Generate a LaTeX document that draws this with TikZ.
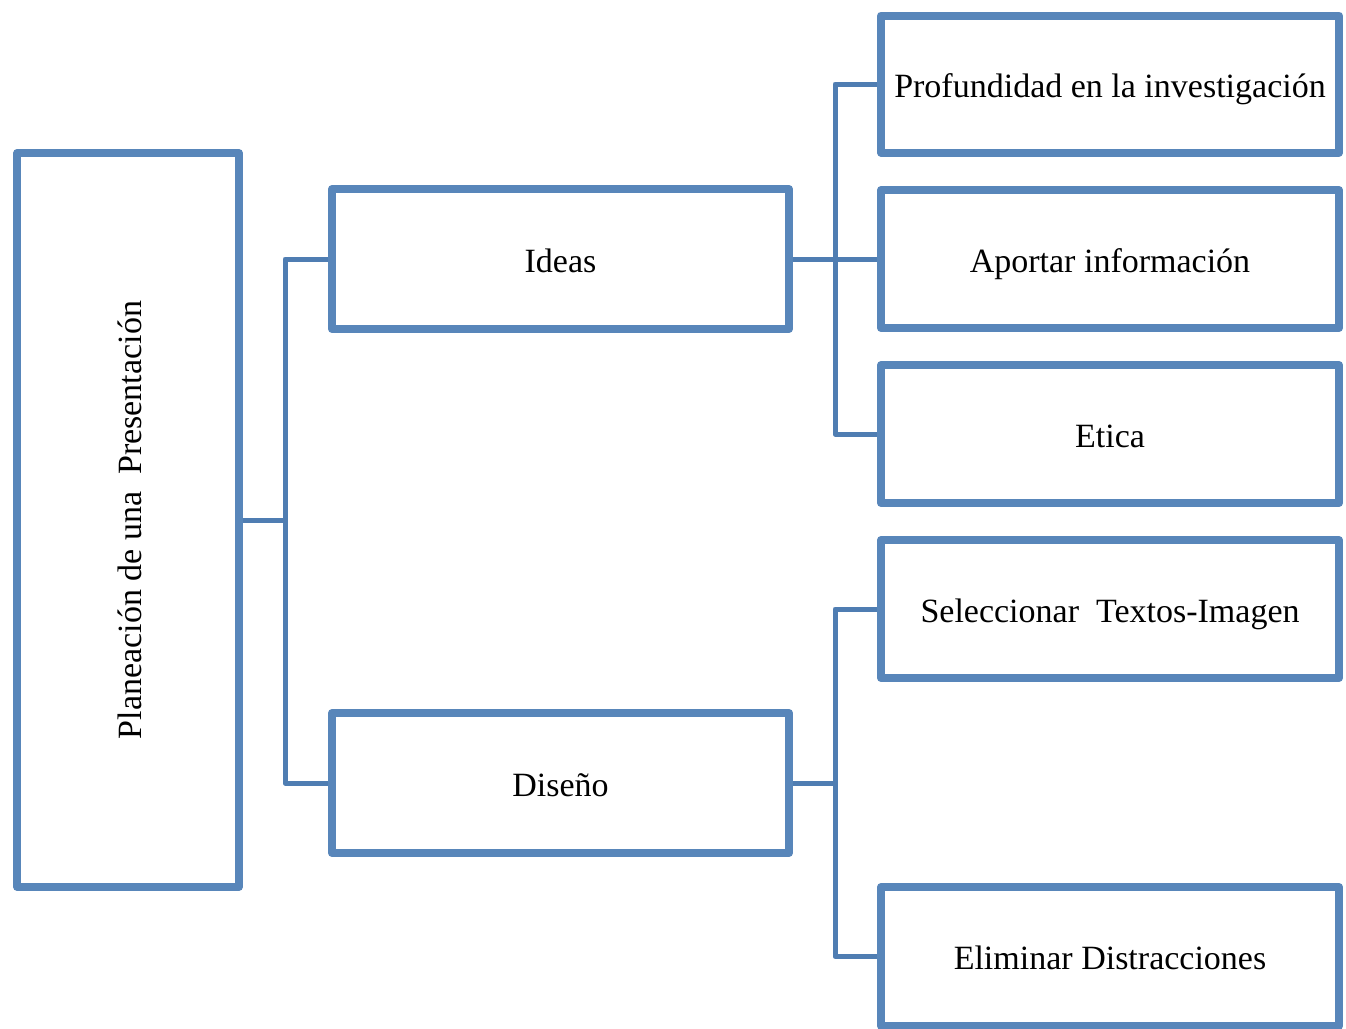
\documentclass[tikz,border=0pt]{standalone}
\usepackage{fontspec}
\setmainfont{Liberation Serif}
\usetikzlibrary{shadows}
\definecolor{boxblue}{HTML}{5886BA}
\definecolor{lineblue}{HTML}{4F7DB2}
\tikzset{
  box/.style={draw=boxblue, line width=8pt, fill=white, rectangle, inner sep=0pt,
    line join=round, font=\fontsize{34}{40}\selectfont, text height=26.5pt, text depth=0pt,
    drop shadow={shadow xshift=2pt, shadow yshift=-3pt, opacity=0.3, fill=black!60}},
  conn/.style={draw=lineblue, line width=5pt, line join=round}
}
\begin{document}
\begin{tikzpicture}[x=1pt,y=-1pt]
\useasboundingbox (0,0) rectangle (1346,1028);
% left main box
\node[box, minimum width=221.5pt, minimum height=734pt] (main) at (128,520) {};
\node[rotate=90, font=\fontsize{34}{40}\selectfont, inner sep=0pt, text height=26.5pt, text depth=0pt] (maintext) at (main.center) {Planeación de una\ \ Presentación};
% middle boxes
\node[box, minimum width=457pt, minimum height=140pt] (ideas) at (560.5,259) {Ideas};
\node[box, minimum width=457pt, minimum height=140pt] (diseno) at (560.5,783) {Diseño};
% right boxes
\node[box, minimum width=458pt, minimum height=137pt] (prof) at (1110,84) {Profundidad en la investigación};
\node[box, minimum width=458pt, minimum height=138pt] (apor) at (1110,259) {Aportar información};
\node[box, minimum width=458pt, minimum height=138pt] (etica) at (1110,434) {Etica};
\node[box, minimum width=458pt, minimum height=138pt] (sel) at (1110,609) {Seleccionar\ \ Textos-Imagen};
\node[box, minimum width=458pt, minimum height=139pt] (elim) at (1110,956.5) {Eliminar Distracciones};
% junction coordinates
\coordinate (j1) at (285,520);
\coordinate (j2) at (835,259);
\coordinate (j3) at (835,783);
% connectors
\draw[conn] (main.east) -- (j1);
\draw[conn] (ideas.west) -| (j1) |- (diseno.west);
\draw[conn] (ideas.east) -- (j2);
\draw[conn] (prof.west) -| (j2) |- (etica.west);
\draw[conn] (j2) -- (apor.west);
\draw[conn] (diseno.east) -- (j3);
\draw[conn] (sel.west) -| (j3) |- (elim.west);
\end{tikzpicture}
\end{document}
